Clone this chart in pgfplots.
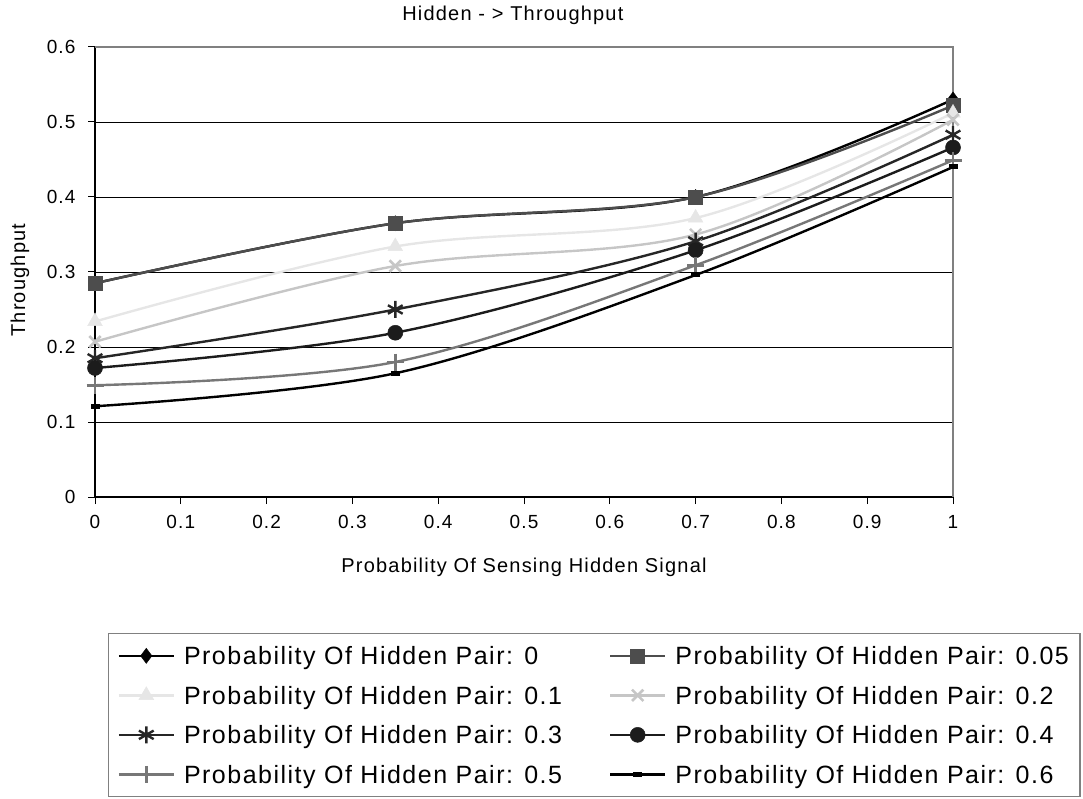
\documentclass[border=0pt]{standalone}
\usepackage{fontspec}
\setmainfont{Liberation Sans}[LetterSpace=6]
\usepackage{pgfplots}
\pgfplotsset{compat=1.18}

\definecolor{pA}{HTML}{000000}
\definecolor{pB}{HTML}{4D4D4D}
\definecolor{pC}{HTML}{E6E6E6}
\definecolor{pD}{HTML}{C6C6C6}
\definecolor{pE}{HTML}{262626}
\definecolor{pF}{HTML}{1C1C1C}
\definecolor{pG}{HTML}{777777}
\definecolor{pH}{HTML}{000000}

% one strut per legend row keeps the row pitch fixed
\newcommand{\E}[1]{\rule[-7pt]{0pt}{26pt}#1}
\newcommand{\EL}[1]{\makebox[410pt][l]{\E{#1}}}

\begin{document}
\begin{tikzpicture}
\useasboundingbox (0pt,0pt) rectangle (1083pt,798pt);
\begin{axis}[
  at={(95pt,301pt)}, anchor=south west,
  width=858pt, height=450pt, scale only axis,
  xmin=0, xmax=1, ymin=0, ymax=0.6,
  xtick={0,0.1,0.2,0.3,0.4,0.5,0.6,0.7,0.8,0.9,1},
  xticklabels={0,0.1,0.2,0.3,0.4,0.5,0.6,0.7,0.8,0.9,1},
  ytick={0,0.1,0.2,0.3,0.4,0.5,0.6},
  yticklabels={0,0.1,0.2,0.3,0.4,0.5,0.6},
  axis x line*=bottom, axis y line*=left,
  axis line style={-, black, line width=1.2pt},
  ymajorgrids, grid style={black, line width=0.9pt},
  tick align=outside, major tick length=7pt,
  tick style={black, line width=1pt},
  tick label style={font=\fontsize{19}{23}\selectfont},
  xticklabel style={yshift=-8pt},
  yticklabel style={xshift=-9pt},
  /pgf/number format/assume math mode=true,
  title={Hidden - > Throughput},
  title style={at={(axis description cs:0.487,1.045)}, anchor=base,
    font=\fontsize{20}{24}\selectfont},
  xlabel={Probability Of Sensing Hidden Signal},
  xlabel style={at={(axis description cs:0.5,-0.1556)}, anchor=center,
    font=\fontsize{20}{24}\selectfont},
  ylabel={Throughput},
  ylabel style={at={(axis description cs:-0.0874,0.482)}, anchor=center,
    font=\fontsize{20}{24}\selectfont},
  clip=false,
  every axis plot/.append style={smooth, tension=0.55, line width=2.4pt},
  legend image code/.code={
    \draw[mark repeat=2, mark phase=2] plot coordinates {(0pt,0pt) (27.5pt,0pt) (55pt,0pt)};
  },
  legend columns=2,
  legend cell align=left,
  legend style={
    at={(axis description cs:0.01515,-0.3022)}, anchor=north west,
    draw=gray, line width=1.2pt, fill=white,
    font=\fontsize{25}{30}\selectfont,
    inner xsep=9pt, inner ysep=10pt, row sep=15pt,
    /tikz/every odd column/.append style={column sep=7pt},
    /tikz/every even column/.append style={column sep=13pt},
  },
]
% series: probability of hidden pair
\addplot[pA, mark=diamond*, mark size=7.5pt, mark options={solid, fill=pA, line width=0.5pt}]
  coordinates {(0,0.285) (0.35,0.365) (0.7,0.400) (1,0.530)};
\addlegendentry{\EL{Probability Of Hidden Pair: 0}}
\addplot[pB, mark=square*, mark size=7pt, mark options={solid, fill=pB, line width=0.5pt}]
  coordinates {(0,0.285) (0.35,0.365) (0.7,0.400) (1,0.522)};
\addlegendentry{\E{Probability Of Hidden Pair: 0.05}}
\addplot[pC, mark=triangle*, mark size=8.5pt, mark options={solid, fill=pC, line width=0.5pt}]
  coordinates {(0,0.234) (0.35,0.334) (0.7,0.372) (1,0.512)};
\addlegendentry{\EL{Probability Of Hidden Pair: 0.1}}
\addplot[pD, mark=x, mark size=8pt, mark options={solid, line width=2.6pt}]
  coordinates {(0,0.207) (0.35,0.308) (0.7,0.350) (1,0.503)};
\addlegendentry{\E{Probability Of Hidden Pair: 0.2}}
\addplot[pE, mark=asterisk, mark size=8.5pt, mark options={solid, line width=2.4pt}]
  coordinates {(0,0.185) (0.35,0.250) (0.7,0.341) (1,0.483)};
\addlegendentry{\EL{Probability Of Hidden Pair: 0.3}}
\addplot[pF, mark=*, mark size=7.5pt, mark options={solid, fill=pF, line width=0.5pt}]
  coordinates {(0,0.172) (0.35,0.219) (0.7,0.329) (1,0.466)};
\addlegendentry{\E{Probability Of Hidden Pair: 0.4}}
\addplot[pG, mark=+, mark size=8.5pt, mark options={solid, line width=2.6pt}]
  coordinates {(0,0.149) (0.35,0.180) (0.7,0.309) (1,0.449)};
\addlegendentry{\EL{Probability Of Hidden Pair: 0.5}}
\addplot[pH, mark=-, mark size=4.5pt, mark options={solid, line width=5pt}]
  coordinates {(0,0.121) (0.35,0.165) (0.7,0.296) (1,0.440)};
\addlegendentry{\E{Probability Of Hidden Pair: 0.6}}
% outer frame on the top and right sides
\draw[gray, line width=2pt] (rel axis cs:0,1) -- (rel axis cs:1,1) -- (rel axis cs:1,0);
\end{axis}
\end{tikzpicture}
\end{document}
